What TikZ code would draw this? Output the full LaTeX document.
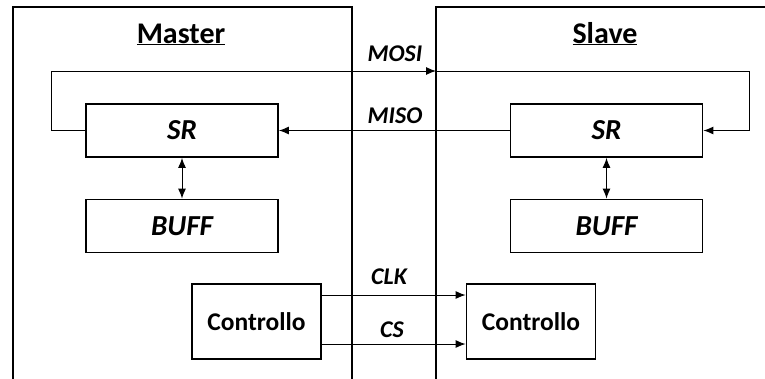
\documentclass[tikz,border=0pt]{standalone}
\usepackage{fontspec}
\setmainfont{Carlito}
\usetikzlibrary{arrows.meta,positioning}

\begin{document}
\begin{tikzpicture}[x=1pt, y=-1pt,
    unit/.style={rectangle, draw, line width=1.8pt, minimum width=192pt, minimum height=53pt, inner sep=0pt, font=\fontsize{29}{33}\selectfont\bfseries\itshape},
    ctrl/.style={rectangle, draw, line width=1.8pt, minimum width=129pt, minimum height=75pt, inner sep=0pt, font=\fontsize{25.5}{30}\selectfont\bfseries},
    frame/.style={line width=2pt},
    title/.style={anchor=base, inner sep=0pt, font=\fontsize{30}{34}\selectfont\bfseries},
    signal/.style={anchor=base, inner sep=0pt, font=\fontsize{24}{28}\selectfont\bfseries\itshape},
    arrow/.style={-{Latex[length=10pt, width=8pt]}, line width=1pt},
    twoway/.style={{Latex[length=10pt, width=8pt]}-{Latex[length=10pt, width=8pt]}, line width=1pt},
]
    \useasboundingbox (0,0) rectangle (765,378);

    % Master and Slave frames
    \draw[frame] (13,380) -- (13,7) -- (352,7) -- (352,380);
    \draw[frame] (436,380) -- (436,7) -- (767,7);
    \node[title] (masterT) at (181,43) {\underline{Master}};
    \node[title] (slaveT) at (605,43) {\underline{Slave}};

    % Master blocks
    \node[unit] (srM) at (182,130.5) {SR};
    \node[unit] (buffM) at (182,226) {BUFF};
    \node[ctrl] (ctrlM) at (256.5,321.5) {Controllo};

    % Slave blocks
    \node[unit] (srS) at (606.5,130.5) {SR};
    \node[unit] (buffS) at (606.5,226) {BUFF};
    \node[ctrl] (ctrlS) at (531,321.5) {Controllo};

    \draw[twoway] (srM) -- (buffM);
    \draw[twoway] (srS) -- (buffS);

    % MOSI / MISO
    \coordinate (mosiIn) at (436,71);
    \draw[arrow] (srM.west) -- ++(-34,0) |- (mosiIn);
    \draw[arrow] (mosiIn) -- ++(313,0) |- (srS.east);
    \draw[arrow] (srS.west) -- (srM.east);
    \node[signal] (mosiL) at (395,61) {MOSI};
    \node[signal] (misoL) at (395,123) {MISO};

    % CLK / CS
    \draw[arrow] ([yshift=26.5pt]ctrlM.east) -- ([yshift=26.5pt]ctrlS.west);
    \draw[arrow] ([yshift=-22.5pt]ctrlM.east) -- ([yshift=-22.5pt]ctrlS.west);
    \node[signal] (clkL) at (389,284) {CLK};
    \node[signal] (csL) at (392,337) {CS};
\end{tikzpicture}
\end{document}
